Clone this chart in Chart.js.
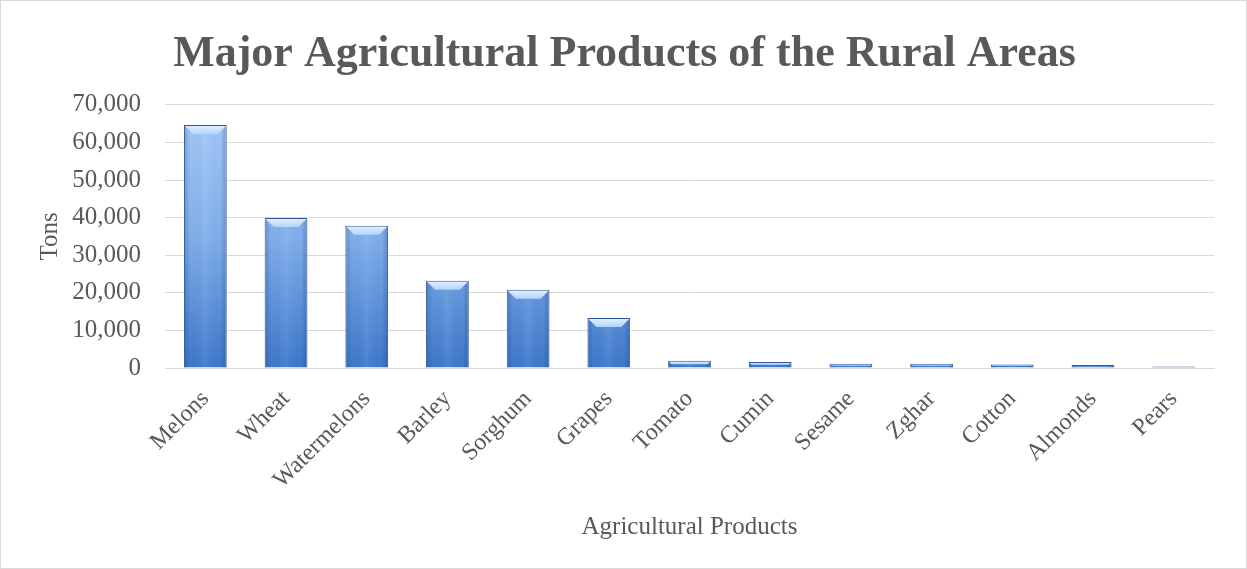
<!DOCTYPE html>
<html>
<head>
<meta charset="UTF-8" />
<title>Major Agricultural Products</title>
<script src="https://cdn.jsdelivr.net/npm/chart.js"></script>
<style>
  html, body { margin: 0; padding: 0; background: #fff; }
  .wrap { width: 1245px; height: 567px; border: 1px solid #d9d9d9; position: relative; }
  canvas { display: block; }
</style>
</head>
<body>
<div class="wrap"><canvas id="c" width="1245" height="567"></canvas></div>
<script>
const products = ['Melons', 'Wheat', 'Watermelons', 'Barley', 'Sorghum', 'Grapes', 'Tomato', 'Cumin', 'Sesame', 'Zghar', 'Cotton', 'Almonds', 'Pears']
const tons = [64600, 39900, 37800, 23200, 20800, 13300, 1900, 1600, 1100, 1100, 900, 800, 400]

const serif = "'Liberation Serif', 'DejaVu Serif', serif"
const grey = '#595959'

// bevel on top of each bar + a bit of side shading, like the office chart style
const bevel = {
  id: 'bevel',
  afterDatasetsDraw(chart) {
    const ctx = chart.ctx
    chart.getDatasetMeta(0).data.forEach(bar => {
      const w = bar.width
      const left = bar.x - w / 2, right = bar.x + w / 2
      const hgt = bar.base - bar.y
      ctx.save()
      // side shading
      const sg = ctx.createLinearGradient(left, 0, right, 0)
      sg.addColorStop(0, 'rgba(20,50,110,0.25)')
      sg.addColorStop(0.15, 'rgba(20,50,110,0)')
      sg.addColorStop(0.5, 'rgba(255,255,255,0.08)')
      sg.addColorStop(0.85, 'rgba(20,50,110,0)')
      sg.addColorStop(1, 'rgba(20,50,110,0.3)')
      ctx.fillStyle = sg
      ctx.fillRect(left + 1, bar.y + 1, w - 2, hgt - 1)
      const h = Math.min(9, hgt / 2)
      if (h >= 1) {
        const g = ctx.createLinearGradient(0, bar.y, 0, bar.y + h)
        g.addColorStop(0, '#e2f0ff')
        g.addColorStop(1, '#b3d4fa')
        ctx.fillStyle = g
        ctx.beginPath()
        ctx.moveTo(left + 1, bar.y + 1)
        ctx.lineTo(right - 1, bar.y + 1)
        ctx.lineTo(right - h, bar.y + h)
        ctx.lineTo(left + h, bar.y + h)
        ctx.closePath()
        ctx.fill()
      }
      ctx.restore()
    })
  }
}

new Chart(document.getElementById('c'), {
  type: 'bar',
  data: {
    labels: products,
    datasets: [{
      label: 'Tons',
      data: tons,
      backgroundColor: (c) => {
        const area = c.chart.chartArea
        if (!area) return '#6a9fe0'
        const g = c.chart.ctx.createLinearGradient(0, area.top, 0, area.bottom)
        g.addColorStop(0, '#a6cbf7')
        g.addColorStop(0.5, '#80aeea')
        g.addColorStop(1, '#3c77c9')
        return g
      },
      borderColor: '#31598f',
      borderWidth: 1,
      barPercentage: 0.53,
      categoryPercentage: 1
    }]
  },
  plugins: [bevel],
  options: {
    responsive: false,
    animation: false,
    layout: { padding: { left: 34, right: 32, top: 0, bottom: 0 } },
    plugins: {
      legend: { display: false },
      tooltip: { enabled: false },
      title: {
        display: true,
        text: 'Major Agricultural Products of the Rural Areas',
        color: grey,
        font: { family: serif, size: 44, weight: 'bold' },
        padding: { top: 27, bottom: 24 }
      }
    },
    scales: {
      x: {
        grid: { display: false },
        border: { color: '#d9d9d9' },
        afterFit: s => { s.height = 200 },
        ticks: {
          color: grey,
          font: { family: serif, size: 24 },
          maxRotation: 45,
          minRotation: 45,
          padding: 9
        },
        title: {
          display: true,
          text: 'Agricultural Products',
          color: grey,
          font: { family: serif, size: 25 },
          padding: { top: 0, bottom: 26 }
        }
      },
      y: {
        min: 0,
        max: 70000,
        afterFit: s => { s.width = 130 },
        grid: { color: '#d9d9d9', drawTicks: false },
        border: { display: false },
        ticks: {
          stepSize: 10000,
          color: grey,
          font: { family: serif, size: 25 },
          padding: 24,
          callback: v => v.toLocaleString('en-US')
        },
        title: {
          display: true,
          text: 'Tons',
          color: grey,
          font: { family: serif, size: 25 },
          padding: { top: 0, bottom: 0 }
        }
      }
    }
  }
})
</script>
</body>
</html>
